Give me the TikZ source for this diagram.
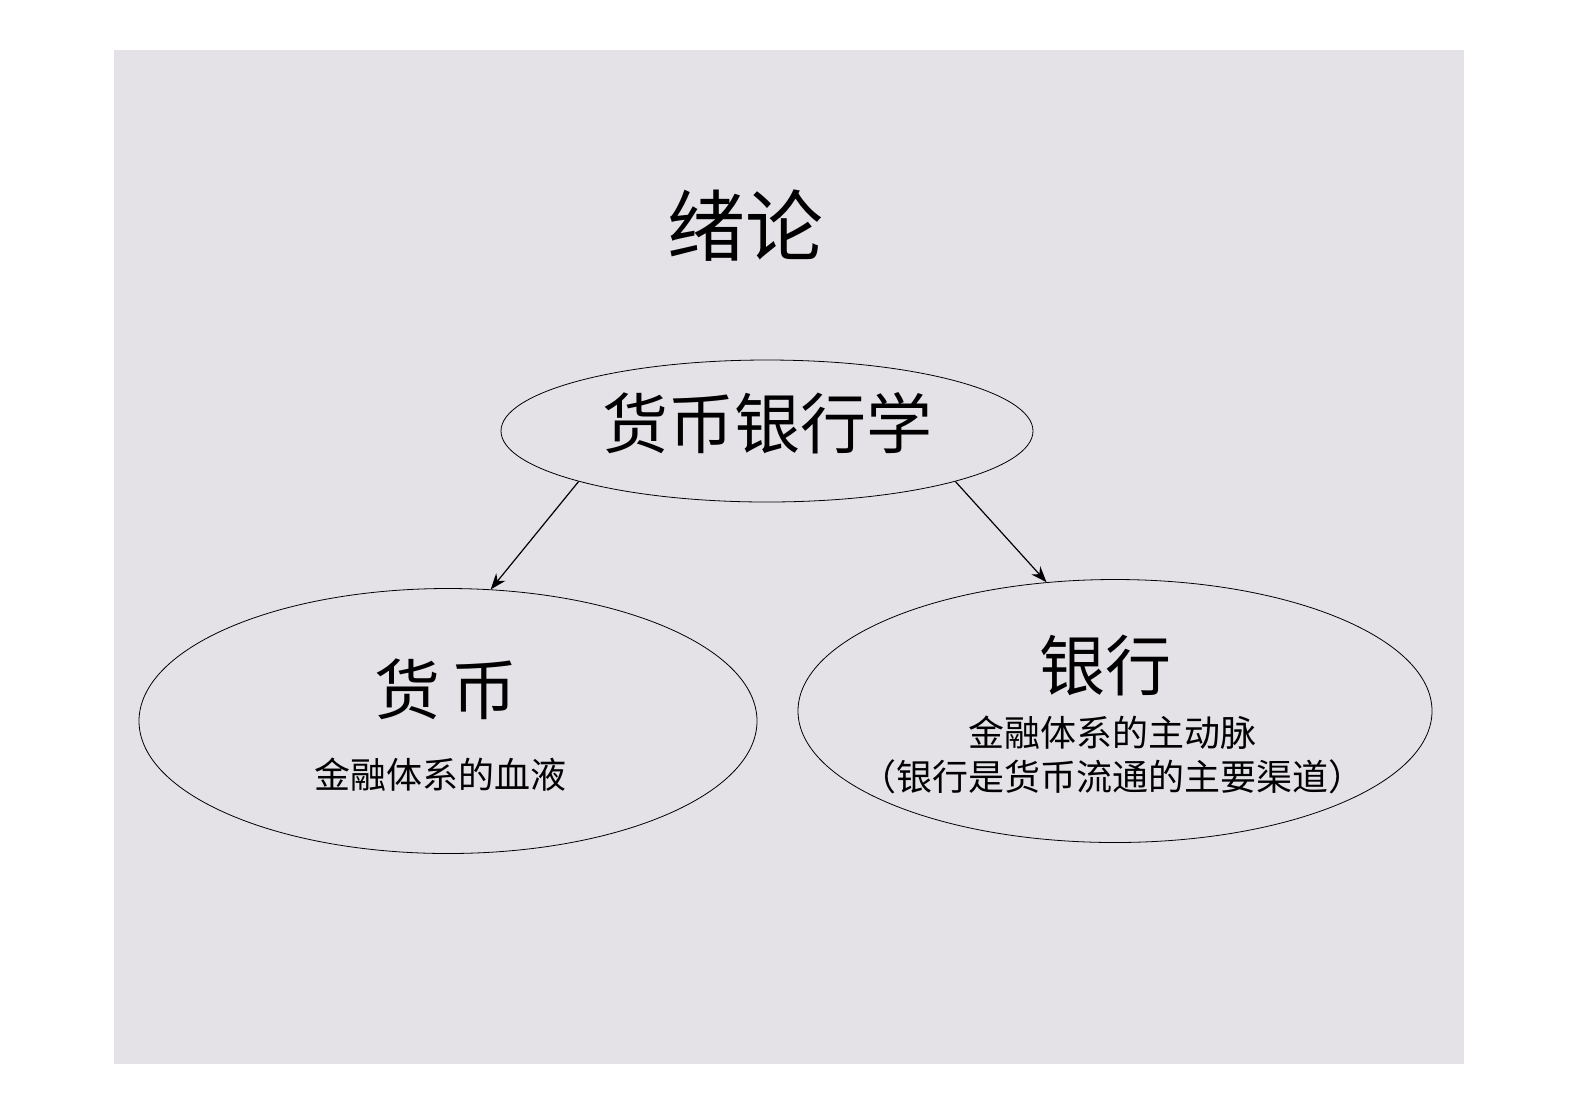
\documentclass[tikz,border=0pt]{standalone}
\usepackage{fontspec}
\newfontfamily\cjk{Noto Sans CJK SC}
\usetikzlibrary{shapes.geometric,arrows.meta,positioning}
\definecolor{marble}{RGB}{228,226,231}

\begin{document}
\begin{tikzpicture}[->,>={Stealth[length=8pt,width=6pt]}, x=0.5pt, y=-0.5pt,
	oval/.style={ellipse, draw, thin, -, inner sep=0pt},
	big/.style={font=\cjk\fontsize{33}{38}\selectfont},
	small/.style={font=\cjk\fontsize{18}{22}\selectfont, align=center}]
\useasboundingbox (0,0) rectangle (1578,1115);
\fill[marble] (114,50) rectangle (1464,1064);
% title
\node[font=\cjk\fontsize{39}{44}\selectfont] (title) at (745,226) {绪论};
% ellipses
\node[oval, minimum width=266pt, minimum height=71pt] (hbyh) at (767,431) {};
\node[oval, minimum width=309pt, minimum height=132.5pt] (hb) at (448,721) {};
\node[oval, minimum width=317pt, minimum height=131.5pt] (yh) at (1115,711) {};
% texts
\node[big] (hbyhtext) at (767,423) {货币银行学};
\node[big] (hbtext) at (446,689) {货\,币};
\node[small] (hbsub) at (440,775) {金融体系的血液};
\node[big] (yhtext) at (1105,665) {银行};
\node[small] (yhsub) at (1112,755) {金融体系的主动脉\\（银行是货币流通的主要渠道）};
% arrows
\draw[semithick] (hbyh.195) -- (hb.72);
\draw[semithick] (hbyh.345) -- (yh.118);
\end{tikzpicture}
\end{document}
